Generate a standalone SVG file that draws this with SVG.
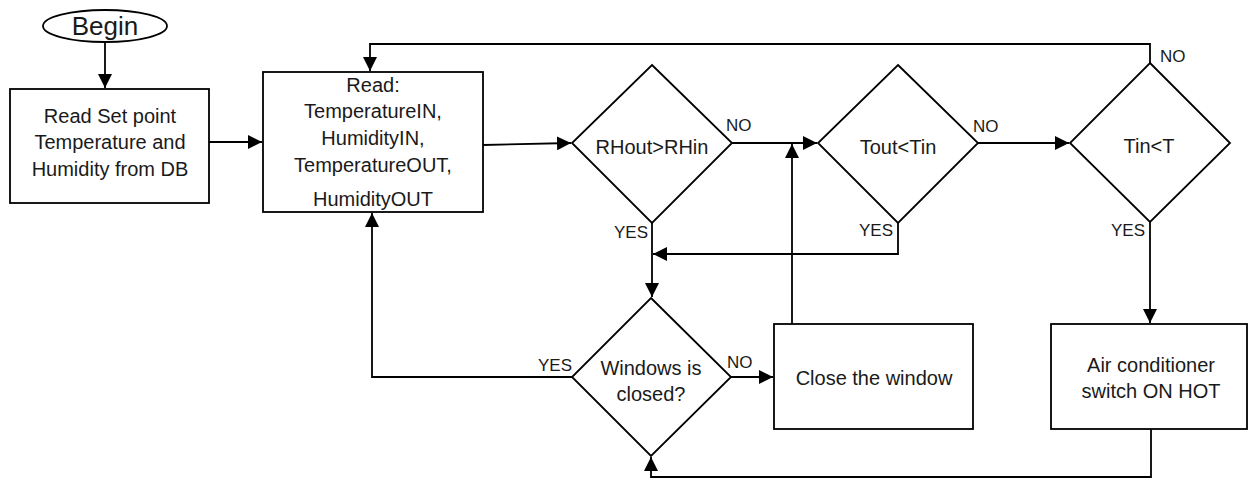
<svg xmlns="http://www.w3.org/2000/svg" width="1249" height="479" viewBox="0 0 1249 479">
<style>
.shape{fill:#fff;stroke:#000;stroke-width:1.8}
.conn{fill:none;stroke:#000;stroke-width:1.8}
.t{font-family:"Liberation Sans",Arial,sans-serif;font-size:20px;fill:#1a1a1a;text-anchor:middle}
.lbl{font-family:"Liberation Sans",Arial,sans-serif;font-size:17px;fill:#1a1a1a}
</style>
<defs>
<marker id="arr" markerUnits="userSpaceOnUse" markerWidth="16" markerHeight="14" refX="14" refY="7" orient="auto">
<path d="M0,0 L14,7 L0,14 Z" fill="#000"/>
</marker>
</defs>
<rect width="1249" height="479" fill="#fff"/>

<g id="connectors">
<path class="conn" d="M105,42 V88" marker-end="url(#arr)"/>
<path class="conn" d="M209,142 H262" marker-end="url(#arr)"/>
<path class="conn" d="M483,145 L571,143" marker-end="url(#arr)"/>
<path class="conn" d="M732,143 H817" marker-end="url(#arr)"/>
<path class="conn" d="M978,143 H1069" marker-end="url(#arr)"/>
<path class="conn" d="M1150,63 V44 H370 V71" marker-end="url(#arr)"/>
<path class="conn" d="M652,223 V297" marker-end="url(#arr)"/>
<path class="conn" d="M898,223 V254 H653" marker-end="url(#arr)"/>
<path class="conn" d="M572,377 H372 V213" marker-end="url(#arr)"/>
<path class="conn" d="M731,377 H773" marker-end="url(#arr)"/>
<path class="conn" d="M792,324 V144" marker-end="url(#arr)"/>
<path class="conn" d="M1150,222 V323" marker-end="url(#arr)"/>
<path class="conn" d="M1151,429 V477 H651 V457" marker-end="url(#arr)"/>
</g>

<g id="begin">
<ellipse class="shape" cx="105" cy="26" rx="62" ry="16"/>
<text class="t" x="105" y="35" style="font-size:26px">Begin</text>
</g>

<g id="read-setpoint">
<rect class="shape" x="10" y="89" width="199" height="114"/>
<text class="t" x="110" y="123">Read Set point</text>
<text class="t" x="110" y="149">Temperature and</text>
<text class="t" x="110" y="176">Humidity from DB</text>
</g>

<g id="read-sensors">
<rect class="shape" x="263" y="72" width="220" height="140"/>
<text class="t" x="373" y="92">Read:</text>
<text class="t" x="373" y="118">TemperatureIN,</text>
<text class="t" x="373" y="145">HumidityIN,</text>
<text class="t" x="373" y="172">TemperatureOUT,</text>
<text class="t" x="373" y="206">HumidityOUT</text>
</g>

<g id="decision-rh">
<polygon class="shape" points="652,65 732,143 652,223 572,143"/>
<text class="t" x="652" y="154">RHout&gt;RHin</text>
</g>

<g id="decision-tout">
<polygon class="shape" points="898,65 978,143 898,223 818,143"/>
<text class="t" x="898" y="154">Tout&lt;Tin</text>
</g>

<g id="decision-tin">
<polygon class="shape" points="1150,63 1230,143 1150,222 1070,143"/>
<text class="t" x="1149" y="153">Tin&lt;T</text>
</g>

<g id="decision-window">
<polygon class="shape" points="651,298 731,377 651,456 572,377"/>
<text class="t" x="651" y="375">Windows is</text>
<text class="t" x="651" y="401">closed?</text>
</g>

<g id="close-window">
<rect class="shape" x="774" y="324" width="199" height="105"/>
<text class="t" x="874" y="385">Close the window</text>
</g>

<g id="ac-on">
<rect class="shape" x="1051" y="324" width="196" height="105"/>
<text class="t" x="1151" y="372">Air conditioner</text>
<text class="t" x="1151" y="398">switch ON HOT</text>
</g>

<g id="labels">
<text class="lbl" x="726" y="131">NO</text>
<text class="lbl" x="973" y="132">NO</text>
<text class="lbl" x="1160" y="62">NO</text>
<text class="lbl" x="727" y="368">NO</text>
<text class="lbl" x="648" y="238" text-anchor="end">YES</text>
<text class="lbl" x="893" y="236" text-anchor="end">YES</text>
<text class="lbl" x="1145" y="236" text-anchor="end">YES</text>
<text class="lbl" x="572" y="371" text-anchor="end">YES</text>
</g>
</svg>
